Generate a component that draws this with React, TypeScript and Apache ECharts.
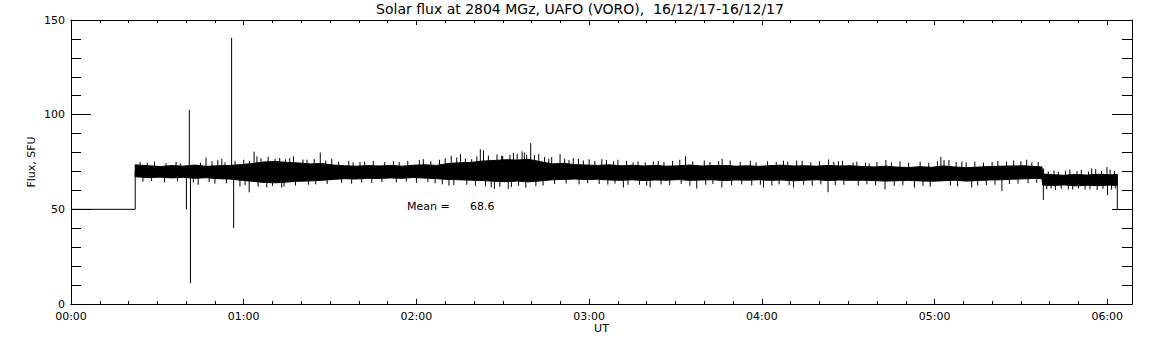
import React, { useEffect, useRef } from "react";
import * as echarts from "echarts";

// ---- Data (time in minutes after 00:00 UT, flux in SFU) ----
const titleText = "Solar flux at 2804 MGz, UAFO (VORO),  16/12/17-16/12/17";
const meanValue = "68.6";
const hourTicks = [0, 60, 120, 180, 240, 300, 360];

// flat pre-observation segment and final drop
const startSegment = [[0, 50], [22.3, 50], [22.3, 70]];
const endSegment = [[363.5, 65.5], [363.5, 50]];

// envelope of the noisy record
const envTimes = [
  22.3, 27, 31, 35, 39, 43, 47, 51, 55, 59, 63, 67, 71, 75, 79, 83, 87, 91, 95, 99,
  103, 107, 111, 115, 119, 123, 127, 131, 135, 139, 143, 147, 151, 155, 159, 163, 167, 171, 175, 179,
  183, 187, 191, 195, 199, 203, 207, 211, 215, 219, 223, 227, 231, 235, 239, 243, 247, 251, 255, 259,
  263, 267, 271, 275, 279, 283, 287, 291, 295, 299, 303, 307, 311, 315, 319, 323, 327, 331, 335, 337.3,
  337.6, 341, 345, 349, 353, 357, 361, 363.5,
];
const envHigh = [
  73.5, 73.0, 72.6, 73.1, 72.8, 73.4, 72.7, 73.0, 73.2, 73.6, 74.2, 75.0, 75.3, 74.8, 74.5, 74.0, 74.2, 73.4, 73.0, 72.8,
  73.1, 72.9, 73.2, 72.8, 73.3, 73.5, 73.2, 74.2, 74.6, 74.8, 75.5, 75.8, 76.2, 76.0, 76.4, 75.2, 74.0, 74.3, 73.6, 73.4,
  73.2, 73.5, 73.0, 73.3, 72.9, 73.2, 72.8, 73.0, 73.4, 72.9, 73.1, 73.2, 72.8, 73.0, 72.7, 73.1, 73.3, 72.9, 73.0, 72.8,
  73.2, 72.9, 73.0, 72.6, 72.4, 72.8, 72.3, 72.1, 72.5, 72.2, 72.9, 72.4, 72.0, 72.3, 72.6, 72.8, 72.9, 73.0, 72.6, 72.4,
  68.6, 68.3, 68.0, 68.4, 68.1, 68.5, 68.2, 68.4,
];
const envLow = [
  67.2, 66.8, 67.0, 66.6, 66.9, 66.4, 66.7, 66.2, 66.0, 65.4, 64.8, 64.2, 64.0, 64.4, 64.8, 65.0, 65.3, 65.8, 66.2, 66.0,
  66.4, 66.3, 66.6, 66.4, 66.8, 66.5, 66.2, 65.8, 65.6, 65.4, 65.2, 64.8, 64.6, 64.9, 64.5, 65.0, 65.6, 65.8, 66.0, 65.7,
  65.9, 65.5, 65.3, 65.6, 65.2, 65.5, 65.4, 65.7, 65.3, 65.5, 65.6, 65.2, 65.5, 65.4, 65.6, 65.3, 65.5, 65.1, 65.4, 65.6,
  65.2, 65.5, 65.3, 65.4, 65.2, 64.9, 65.1, 65.3, 65.0, 64.8, 65.1, 65.4, 64.9, 65.2, 65.5, 65.6, 65.9, 66.1, 66.3, 66.2,
  62.8, 62.6, 62.9, 62.4, 62.7, 62.5, 62.8, 62.6,
];

// individual large spikes: [time, value]
const stepTime = 337.5;
const spikes = [
  [40.1, 50], [41.1, 102.5], [41.5, 11], [55.8, 140.5], [56.5, 40],
  [63.6, 80.5], [64.6, 78], [86.6, 80], [61.9, 59], [46.9, 77.3], [51, 76], [52.4, 76.7],
  [77.3, 78], [44.2, 63], [58.7, 62], [73.2, 61.5], [90.6, 76.7], [70.9, 76.7], [80.6, 76.3], [100.4, 75],
  [159.7, 85], [142.2, 81.7], [143.3, 81.2], [147.1, 60.8], [151.9, 60.8], [156.7, 80.6], [158.3, 78.8],
  [132.1, 78.3], [135.3, 79.2], [122.4, 76.5], [167, 77.6], [169.9, 79.2], [174.5, 77], [176.3, 76.6],
  [131.3, 62.5], [191.9, 61.5], [149.6, 78.3], [153.7, 79.8], [139.2, 76.5], [184.4, 76.5],
  [213.5, 78], [226.2, 76.7], [263, 59], [263.2, 76.3], [201.2, 61.5], [217.4, 61], [226.1, 61.5],
  [240.6, 61.5], [247.5, 75.7], [252.1, 75.7], [266.6, 75.4], [271.7, 74.8], [202.3, 75.3], [195.3, 74.8], [251, 61.5],
  [283.1, 76], [302.2, 77.7], [303.3, 76], [337.8, 55], [337.9, 71.6], [359.9, 72.3], [360.1, 57.5],
  [323.4, 59.6], [282.8, 60.5], [309.5, 75.3], [333.8, 74.8], [277.3, 74.2], [293, 61.5], [312.9, 61.5],
  [352.3, 60.5], [346.5, 60.5], [354.6, 71.6],
];

// small excursions above the band: [time, value]
const ripplesUp = [
  [24, 75], [26.5, 74.6], [29, 75.2], [33, 74.4], [36.5, 75], [38, 74.2], [45, 74.6], [49, 75.4], [53.5, 74.8],
  [57, 75.6], [60, 76.2], [62, 75.5], [66, 77], [68.5, 77.8], [72.5, 77.2], [74.5, 76.4], [76, 77], [82, 76.2],
  [84.5, 76.6], [88.5, 75.8], [93, 75.2], [96.5, 75.6], [98, 74.8], [102, 75.2], [105, 75.6], [109, 75],
  [112, 75.4], [114, 75], [117, 75.6], [121, 76], [125, 75.4], [128, 76.2], [130, 77], [134, 77.4], [137, 76.8],
  [141, 78], [145, 78.4], [148, 79], [150, 78.2], [152.5, 78.8], [155, 79.4], [157.5, 80], [161, 78.6],
  [162.5, 79.2], [164.5, 77.6], [166, 76.6], [171.5, 76.8], [173, 76], [178, 75.8], [180, 76.4], [182, 75.6],
  [186, 76], [188.5, 75.4], [190, 76.2], [193, 75.6],
  [197, 75.4], [199.5, 74.8], [204, 75.6], [206, 75], [209, 75.6], [211.5, 76.2], [216, 75.2], [220, 75.8],
  [222, 75], [225, 75.4], [229, 75.8], [232.5, 75], [236, 75.6], [238, 74.8], [242, 75.4], [245, 75],
  [249, 75.2], [254, 75.6], [257, 74.8], [260, 75.4], [265, 75], [268, 75.6], [273, 75.2], [276, 74.6],
  [280, 75], [285, 74.8], [288, 75.4], [291, 74.6], [295, 75.2], [298, 74.6], [301, 75.4], [305, 76],
  [307.5, 75], [311, 74.8], [314, 75.2], [317, 74.6], [320, 75], [322, 75.6], [325, 75.2], [327.5, 75.8],
  [330, 75.4], [332, 76.2], [336, 75],
  [339.5, 70], [341.5, 70.6], [343, 69.8], [345.5, 70.4], [347, 71], [349.5, 70.2], [351, 70.8], [353.5, 70],
  [356, 71.2], [358, 70.4], [361, 71], [362.5, 70.2],
];
// small excursions below the band: [time, value]
const ripplesDown = [
  [25, 64.6], [28, 65], [32.5, 64.2], [37, 64.8], [42.5, 64.2], [48, 64.4], [50, 63.6], [54, 63.8], [60.5, 62.8],
  [65, 62], [68, 61.6], [70, 62.4], [74, 62], [78, 62.6], [82.5, 63], [85, 63.2], [89, 63.4], [94, 64],
  [97.5, 63.6], [101, 64.2], [104.5, 64], [108, 64.4],
  [113, 64.2], [116.5, 64.6], [120, 64], [124, 64.4], [126.5, 63.8], [129, 63.2], [133, 62.8], [137.5, 63],
  [140.5, 62.4], [144, 62.2], [146, 61.6], [149, 62], [153, 61.8], [155.5, 62.4], [158, 61.4], [161.5, 62.2],
  [164, 62.6], [168, 63.4], [172, 63.6], [176.5, 63.2], [179.5, 63.8], [183.5, 63.4], [186.5, 63], [189, 63.6],
  [193.5, 63],
  [197.5, 63], [200, 62.6], [205, 63.2], [208, 62.8], [212, 63.4], [215, 62.4], [220.5, 63], [223, 63.4],
  [229.5, 62.8], [233, 63.2], [236.5, 62.6], [239.5, 63], [243.5, 62.6], [246, 63.2], [249.5, 62.8],
  [254.5, 63], [257.5, 62.6], [260.5, 63.2], [265.5, 62.8], [268.5, 63], [273.5, 62.6], [276.5, 63.2],
  [279.5, 62.8], [286, 62.4], [289, 62.8], [296, 62.4], [298.5, 62], [305.5, 62.6], [308, 62.2], [315, 62.6],
  [318, 62.8], [321, 63], [326, 63.4], [329, 63.6], [332.5, 63.8], [335.5, 64],
  [339, 60.6], [340.5, 61], [342, 60.2], [344, 60.8], [348, 60.4], [350, 61], [354, 60.6], [356.5, 60.2],
  [358.5, 60.8], [361.5, 60.4], [362.8, 61],
];

const FONT = '"DejaVu Sans", sans-serif';

function fmtTime(v: number) {
  const h = Math.floor(v / 60);
  const m = Math.round(v - h * 60);
  return String(h).padStart(2, "0") + ":" + String(m).padStart(2, "0");
}

function spikeSeries(data: number[][]) {
  return {
    type: "custom",
    xAxisIndex: 0,
    yAxisIndex: 0,
    data,
    renderItem: (params: any, api: any) => {
      const t = api.value(0);
      const v = api.value(1);
      const base = t > stepTime ? 65.5 : 69.7;
      const a = api.coord([t, base]);
      const b = api.coord([t, v]);
      return {
        type: "line",
        shape: { x1: a[0], y1: a[1], x2: b[0], y2: b[1] },
        style: { stroke: "#000", lineWidth: 1 },
      };
    },
  };
}

export default function App() {
  const ref = useRef<HTMLDivElement>(null);
  useEffect(() => {
    const chart = echarts.init(ref.current!, null, { renderer: "svg" });
    const X_MAX = 368.6;
    const lineBlack = { color: "#000", width: 1 };
    const baseX = {
      type: "value",
      min: 0,
      max: X_MAX,
      splitLine: { show: false },
      axisLine: { show: true, onZero: false, lineStyle: lineBlack },
    };
    const n = envTimes.length;
    const option: any = {
      animation: false,
      backgroundColor: "#fff",
      grid: { left: 71, right: 20, top: 20, bottom: 41 },
      xAxis: [
        {
          ...baseX,
          position: "bottom",
          interval: 60,
          axisTick: { show: true, inside: true, length: 5, lineStyle: lineBlack },
          axisLabel: {
            show: true,
            color: "#000",
            fontFamily: FONT,
            fontSize: 11,
            margin: 7,
            showMaxLabel: false,
            formatter: (v: number) => (hourTicks.indexOf(v) >= 0 ? fmtTime(v) : ""),
          },
        },
        {
          ...baseX,
          position: "bottom",
          interval: 10,
          axisTick: { show: true, inside: true, length: 3, lineStyle: lineBlack },
          axisLabel: { show: false },
        },
        {
          ...baseX,
          position: "top",
          interval: 60,
          axisTick: { show: true, inside: true, length: 5, lineStyle: lineBlack },
          axisLabel: { show: false },
        },
        {
          ...baseX,
          position: "top",
          interval: 10,
          axisTick: { show: true, inside: true, length: 3, lineStyle: lineBlack },
          axisLabel: { show: false },
        },
      ],
      yAxis: [
        {
          type: "value",
          position: "left",
          min: 0,
          max: 150,
          interval: 50,
          splitLine: { show: false },
          axisLine: { show: true, onZero: false, lineStyle: lineBlack },
          axisTick: { show: true, inside: true, length: 20, lineStyle: lineBlack },
          minorTick: { show: true, splitNumber: 5, length: 10, lineStyle: lineBlack },
          axisLabel: { color: "#000", fontFamily: FONT, fontSize: 11, margin: 6 },
        },
        {
          type: "value",
          position: "right",
          min: 0,
          max: 150,
          interval: 50,
          splitLine: { show: false },
          axisLine: { show: true, onZero: false, lineStyle: lineBlack },
          axisTick: { show: true, inside: true, length: 20, lineStyle: lineBlack },
          minorTick: { show: true, splitNumber: 5, length: 10, lineStyle: lineBlack },
          axisLabel: { show: false },
        },
      ],
      series: [
        {
          type: "custom",
          xAxisIndex: 0,
          yAxisIndex: 0,
          data: envTimes.map((t, i) => [t, envHigh[i], envLow[i]]),
          renderItem: (params: any, api: any) => {
            if (params.dataIndex !== 0) return null;
            const pts: number[][] = [];
            for (let i = 0; i < n; i++) pts.push(api.coord([envTimes[i], envHigh[i]]));
            for (let i = n - 1; i >= 0; i--) pts.push(api.coord([envTimes[i], envLow[i]]));
            return {
              type: "polygon",
              shape: { points: pts },
              style: { fill: "#000", stroke: "#000", lineWidth: 1 },
            };
          },
        },
        spikeSeries(ripplesUp),
        spikeSeries(ripplesDown),
        spikeSeries(spikes),
        {
          type: "line",
          xAxisIndex: 0,
          yAxisIndex: 0,
          data: startSegment,
          showSymbol: false,
          symbol: "none",
          lineStyle: lineBlack,
        },
        {
          type: "line",
          xAxisIndex: 0,
          yAxisIndex: 0,
          data: endSegment,
          showSymbol: false,
          symbol: "none",
          lineStyle: lineBlack,
        },
      ],
      graphic: [
        {
          type: "text",
          x: 580,
          y: 9,
          style: {
            text: titleText,
            fill: "#000",
            font: '14px "DejaVu Sans"',
            align: "center",
            verticalAlign: "middle",
            textAlign: "center",
            textVerticalAlign: "middle",
          },
        },
        {
          type: "text",
          x: 31,
          y: 162,
          rotation: Math.PI / 2,
          style: {
            text: "Flux, SFU",
            fill: "#000",
            font: '11px "DejaVu Sans"',
            align: "center",
            verticalAlign: "middle",
            textAlign: "center",
            textVerticalAlign: "middle",
          },
        },
        {
          type: "text",
          x: 601.5,
          y: 328.5,
          style: {
            text: "UT",
            fill: "#000",
            font: '11px "DejaVu Sans"',
            align: "center",
            verticalAlign: "middle",
            textAlign: "center",
            textVerticalAlign: "middle",
          },
        },
        {
          type: "text",
          x: 407,
          y: 206,
          style: {
            text: "Mean =",
            fill: "#000",
            font: '11px "DejaVu Sans"',
            align: "left",
            verticalAlign: "middle",
            textAlign: "left",
            textVerticalAlign: "middle",
          },
        },
        {
          type: "text",
          x: 470,
          y: 206,
          style: {
            text: meanValue,
            fill: "#000",
            font: '11px "DejaVu Sans"',
            align: "left",
            verticalAlign: "middle",
            textAlign: "left",
            textVerticalAlign: "middle",
          },
        },
      ],
    };
    chart.setOption(option);
    return () => chart.dispose();
  }, []);
  return (
    <div
      ref={ref}
      style={{ position: "absolute", left: 0, top: 0, width: 1152, height: 345, background: "#fff" }}
    />
  );
}
